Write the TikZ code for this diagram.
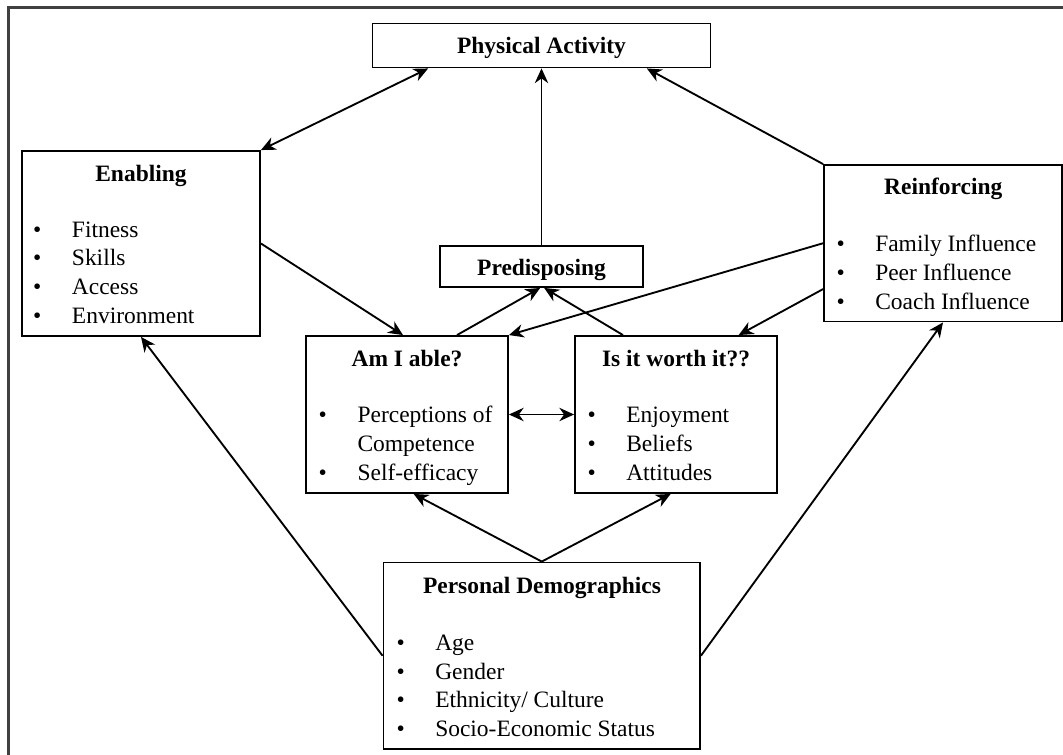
\documentclass[tikz,border=0pt]{standalone}
\usepackage{fontspec}
\setmainfont{Liberation Serif}
\usepackage{tikz}
\usetikzlibrary{arrows.meta, calc, fit}

\begin{document}
\begin{tikzpicture}[x=0.75pt, y=-0.75pt, >={Stealth[length=11pt,width=10pt,inset=3.5pt]},
    box/.style={draw, line width=1.4pt, inner sep=0pt, fit={#1}},
    head/.style={anchor=base, inner sep=0pt, font=\fontsize{17.6}{21}\selectfont\bfseries},
    item/.style={anchor=base west, inner sep=0pt, font=\fontsize{17.6}{21}\selectfont},
    dot/.style={anchor=base, inner sep=0pt, font=\fontsize{17.6}{21}\selectfont},
    link/.style={line width=1.4pt}]
    \useasboundingbox (0,0) rectangle (1063,755);
    \draw[line width=1.6pt, black!75] (1063,7.5) -- (8.5,7.5) -- (8.5,755);

    \node[box={(372.5,23.5) (710.5,67.5)}] (pa) {};
    \node[box={(22,151) (260,336)}] (enab) {};
    \node[box={(824,165) (1062,321.5)}] (reinf) {};
    \node[box={(440,246) (643,287)}] (pred) {};
    \node[box={(306,336) (508,493)}] (able) {};
    \node[box={(575,336) (777,493)}] (worth) {};
    \node[box={(383.5,562.5) (700,749)}] (demo) {};

    \node[head] (pa-t) at (541.5,53.3) {Physical Activity};
    \node[head] (enab-t) at (141,181.7) {Enabling};
    \node[head] (reinf-t) at (943.3,195) {Reinforcing};
    \node[head] (pred-t) at (541.5,275.7) {Predisposing};
    \node[head] (able-t) at (407,366.7) {Am I able?};
    \node[head] (worth-t) at (676,366.7) {Is it worth it??};
    \node[head] (demo-t) at (542,593.3) {Personal Demographics};

    \foreach \txt [count=\i] in {Fitness, Skills, Access, Environment} {
        \node[dot] (enab-b\i) at (37.3,{208.7+28.6*\i}) {•};
        \node[item] (enab-\i) at (71.7,{208.7+28.6*\i}) {\txt};
    }
    \foreach \txt [count=\i] in {Family Influence, Peer Influence, Coach Influence} {
        \node[dot] (reinf-b\i) at (840.7,{223+28.7*\i}) {•};
        \node[item] (reinf-\i) at (875,{223+28.7*\i}) {\txt};
    }
    \foreach \txt [count=\i] in {Enjoyment, Beliefs, Attitudes} {
        \node[dot] (worth-b\i) at (591.7,{394.2+28.6*\i}) {•};
        \node[item] (worth-\i) at (626,{394.2+28.6*\i}) {\txt};
    }
    \foreach \txt [count=\i] in {Age, Gender, Ethnicity/ Culture, Socio-Economic Status} {
        \node[dot] (demo-b\i) at (400.7,{622.3+28.5*\i}) {•};
        \node[item] (demo-\i) at (435,{622.3+28.5*\i}) {\txt};
    }
    \node[dot] (able-b1) at (322.7,422.7) {•};
    \node[item] (able-1) at (357.3,422.7) {Perceptions of};
    \node[item] (able-2) at (357.3,451.7) {Competence};
    \node[dot] (able-b3) at (322.7,480) {•};
    \node[item] (able-3) at (357.3,480) {Self-efficacy};

    \draw[link, <->] (enab.north east) -- ([xshift=-85pt]pa.south);
    \draw[link, ->] (pred.north) -- (pa.south);
    \draw[link, ->] (reinf.north west) -- ([xshift=79pt]pa.south);
    \draw[link, ->] (enab.east) -- ([xshift=-3pt]able.north);
    \draw[link, ->] ([xshift=37.5pt]able.north) -- ([xshift=-1pt]pred.south);
    \draw[link, ->] ([xshift=-39.75pt]worth.north) -- ([xshift=2pt]pred.south);
    \draw[link, ->] (reinf.west) -- (able.north east);
    \draw[link, ->] ([yshift=25pt]reinf.south west) -- ([xshift=47pt]worth.north);
    \draw[link, <->] (able.east) -- (worth.west);
    \draw[link, ->] (demo.north) -- ([xshift=5pt]able.south);
    \draw[link, ->] (demo.north) -- ([xshift=-4pt]worth.south);
    \draw[link, ->] (demo.west) -- (enab.south);
    \draw[link, ->] (demo.east) -- (reinf.south);
\end{tikzpicture}
\end{document}
